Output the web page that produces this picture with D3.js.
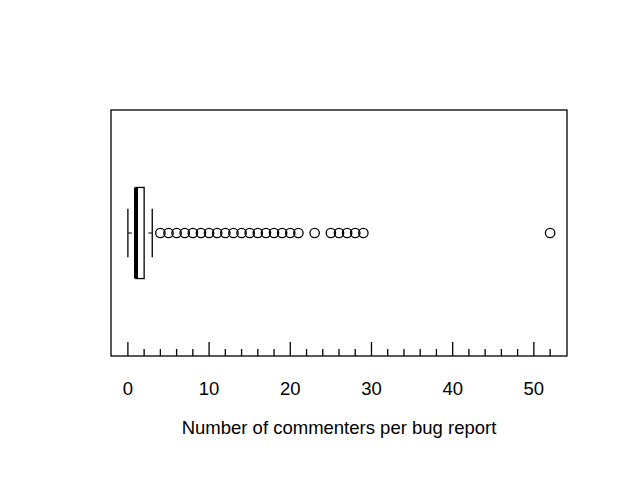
<!DOCTYPE html>
<html>
<head>
<meta charset="utf-8">
<script src="https://cdn.jsdelivr.net/npm/d3@7"></script>
<style>
  html, body { margin: 0; padding: 0; background: #fff; }
  text { font-family: "Liberation Sans", Arial, Helvetica, sans-serif; fill: #000; }
</style>
</head>
<body>
<script>
// Five-number summary of the boxplot (commenters per bug report)
const whiskerLow = [0];
const quartiles = [1, 1, 2];   // Q1, median, Q3
const whiskerHigh = [3];
// Outliers
const outliers = [4,5,6,7,8,9,10,11,12,13,14,15,16,17,18,19,20,21,23,25,26,27,28,29,52];
const majorTicks = [0, 10, 20, 30, 40, 50];
const minorTicks = [2,4,6,8,12,14,16,18,22,24,26,28,32,34,36,38,42,44,46,48,52];
const xLabel = "Number of commenters per bug report";

const W = 623, H = 494;
const mLeft = 111, mRight = 567, mTop = 110, mBottom = 356;

const svg = d3.select("body").append("svg")
  .attr("width", W).attr("height", H);

const x = d3.scaleLinear().domain([-2.08, 54.08]).range([mLeft, mRight]);
const y = d3.scaleLinear().domain([0.46, 1.54]).range([mBottom, mTop]);

const c = y(1);
const boxHalf = y(1) - y(1.2);
const stapleHalf = y(1) - y(1.106);

// frame
svg.append("rect")
  .attr("x", mLeft).attr("y", mTop)
  .attr("width", mRight - mLeft).attr("height", mBottom - mTop)
  .attr("fill", "none").attr("stroke", "#000").attr("stroke-width", 1.3);

// whiskers (dashed, drawn from the whisker end toward the box)
const g = svg.append("g").attr("stroke", "#000").attr("fill", "none");
g.append("line")
  .attr("x1", x(whiskerLow[0])).attr("x2", x(quartiles[0]))
  .attr("y1", c).attr("y2", c)
  .attr("stroke-width", 1.2).attr("stroke-dasharray", "4,4");
g.append("line")
  .attr("x1", x(whiskerHigh[0])).attr("x2", x(quartiles[2]))
  .attr("y1", c).attr("y2", c)
  .attr("stroke-width", 1.2).attr("stroke-dasharray", "4,4");
// staples
[whiskerLow[0], whiskerHigh[0]].forEach(v => {
  g.append("line")
    .attr("x1", x(v)).attr("x2", x(v))
    .attr("y1", c - stapleHalf).attr("y2", c + stapleHalf)
    .attr("stroke-width", 1.3);
});
// box
g.append("rect")
  .attr("x", x(quartiles[0])).attr("y", c - boxHalf)
  .attr("width", x(quartiles[2]) - x(quartiles[0]))
  .attr("height", 2 * boxHalf)
  .attr("fill", "#fff").attr("stroke-width", 1.3);
// median
g.append("line")
  .attr("x1", x(quartiles[1])).attr("x2", x(quartiles[1]))
  .attr("y1", c - boxHalf).attr("y2", c + boxHalf)
  .attr("stroke-width", 4);

// outliers
svg.append("g").selectAll("circle")
  .data(outliers).join("circle")
  .attr("cx", d => x(d)).attr("cy", c).attr("r", 4.7)
  .attr("fill", "none").attr("stroke", "#000").attr("stroke-width", 1.3);

// axis ticks (pointing inward from bottom edge)
const ax = svg.append("g").attr("stroke", "#000").attr("stroke-width", 1.3);
ax.selectAll("line.major").data(majorTicks).join("line").attr("class", "major")
  .attr("x1", d => x(d)).attr("x2", d => x(d))
  .attr("y1", mBottom).attr("y2", mBottom - 14);
ax.selectAll("line.minor").data(minorTicks).join("line").attr("class", "minor")
  .attr("x1", d => x(d)).attr("x2", d => x(d))
  .attr("y1", mBottom).attr("y2", mBottom - 7);

// tick labels
svg.append("g").selectAll("text")
  .data(majorTicks).join("text")
  .attr("x", d => x(d)).attr("y", 395)
  .attr("text-anchor", "middle")
  .style("font-size", "18.5px")
  .text(d => d);

// x label
svg.append("text")
  .attr("x", (mLeft + mRight) / 2).attr("y", 434)
  .attr("text-anchor", "middle")
  .style("font-size", "18.5px")
  .text(xLabel);
</script>
</body>
</html>
